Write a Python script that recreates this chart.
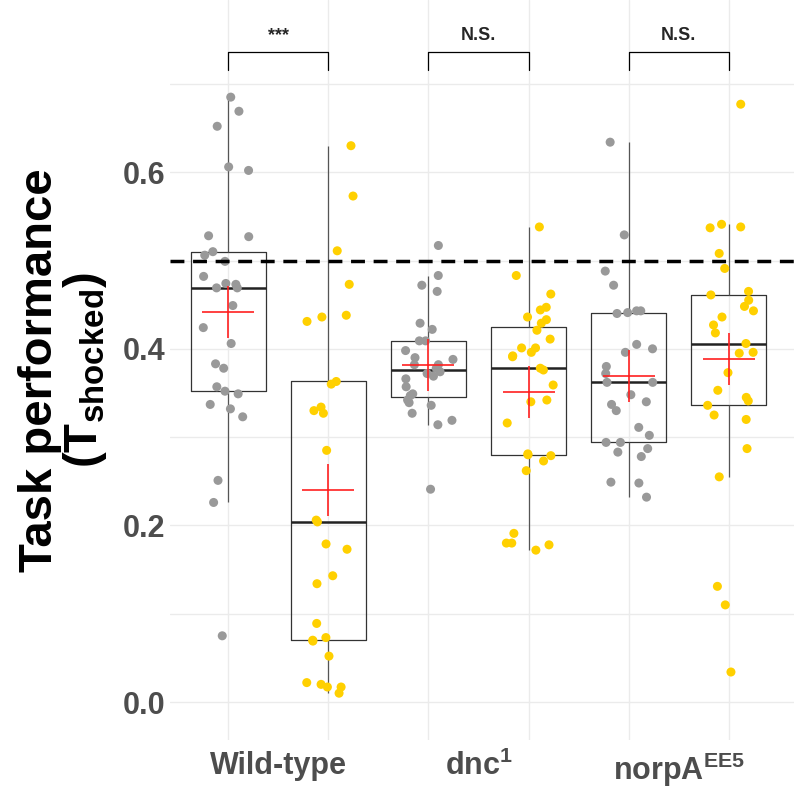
import numpy as np, pandas as pd, matplotlib
matplotlib.use("Agg")
import matplotlib.pyplot as plt, seaborn as sns

genotypes = ["Wild-type", "dnc$^{\\mathbf{1}}$", "norpA$^{\\mathbf{EE5}}$"]
wt_ctrl = [0.685,0.669,0.652,0.606,0.602,0.527,0.528,0.510,0.506,0.499,0.482,0.474,0.473,0.469,0.469,0.449,0.424,0.406,0.383,0.378,0.357,0.349,0.352,0.337,0.332,0.323,0.251,0.226,0.075]
wt_shock = [0.630,0.573,0.511,0.473,0.438,0.436,0.431,0.363,0.360,0.334,0.330,0.327,0.285,0.206,0.204,0.179,0.173,0.143,0.134,0.089,0.073,0.069,0.070,0.052,0.022,0.017,0.020,0.010,0.017]
dnc_ctrl = [0.517,0.483,0.472,0.465,0.429,0.422,0.409,0.409,0.398,0.390,0.388,0.382,0.382,0.378,0.374,0.372,0.369,0.366,0.357,0.349,0.347,0.342,0.339,0.336,0.327,0.319,0.314,0.241]
dnc_shock = [0.538,0.483,0.462,0.447,0.444,0.436,0.433,0.429,0.421,0.411,0.401,0.401,0.396,0.392,0.391,0.378,0.376,0.359,0.342,0.340,0.316,0.280,0.279,0.273,0.281,0.262,0.191,0.180,0.180,0.178,0.172]
norpa_ctrl = [0.634,0.529,0.488,0.472,0.443,0.443,0.441,0.440,0.405,0.400,0.396,0.380,0.372,0.362,0.362,0.348,0.340,0.337,0.330,0.311,0.302,0.294,0.294,0.287,0.283,0.278,0.249,0.248,0.232]
norpa_shock = [0.677,0.541,0.538,0.537,0.508,0.491,0.465,0.461,0.455,0.448,0.443,0.436,0.427,0.418,0.406,0.396,0.395,0.373,0.353,0.345,0.341,0.336,0.325,0.320,0.287,0.255,0.131,0.110,0.034]
signif = ["***", "N.S.", "N.S."]

groups = [wt_ctrl, wt_shock, dnc_ctrl, dnc_shock, norpa_ctrl, norpa_shock]
conds = ["ctrl","shock"]*3
rows = []
for i,(g,c) in enumerate(zip(groups,conds)):
    for v in g:
        rows.append({"pos": i+1, "val": v, "cond": c})
df = pd.DataFrame(rows)

sns.set_theme(style="whitegrid")
plt.rcParams["font.family"] = ["Liberation Sans", "DejaVu Sans"]
plt.rcParams["mathtext.fontset"] = "custom"
plt.rcParams["mathtext.rm"] = "Liberation Sans"
plt.rcParams["mathtext.bf"] = "Liberation Sans:bold"
plt.rcParams["mathtext.it"] = "Liberation Sans:italic"
fig = plt.figure(figsize=(8,8), dpi=100)
ax = fig.add_axes([0.2125, 0.075, 0.78, 0.925])
ax.set_xlim(0.42, 6.65); ax.set_ylim(-0.043, 0.795)

sns.boxplot(data=df, x="pos", y="val", native_scale=True, width=0.75, fill=False,
            color="#333333", showfliers=False, showcaps=False, linewidth=0.9, whis=1.5,
            medianprops=dict(linewidth=1.8, color="#222222"),
            whiskerprops=dict(color="#555555"), ax=ax, zorder=2)
np.random.seed(3)
sns.stripplot(data=df, x="pos", y="val", hue="cond", native_scale=True, jitter=0.26,
              palette={"ctrl":"#999999","shock":"#FFD000"}, size=6.5, legend=False, ax=ax, zorder=3)
means = df.groupby("pos")["val"].mean()
ax.scatter(means.index, means.values, marker="+", s=1400, color="#FF2020", linewidths=1.2, zorder=4)
ax.axhline(0.5, color="black", ls=(0,(4,2.5)), lw=2.5, zorder=5)

for k,s in enumerate(signif):
    a, b = 2*k+1, 2*k+2
    ax.plot([a,a,b,b],[0.716,0.736,0.736,0.716], color="black", lw=0.9, clip_on=False)
    ax.text((a+b)/2, 0.745, s, ha="center", va="bottom", fontsize=13, fontweight="bold")

ax.set_yticks([0,0.2,0.4,0.6]); ax.set_yticks([0.1,0.3,0.5,0.7], minor=True)
ax.set_yticklabels(["0.0","0.2","0.4","0.6"])
ax.set_xticks([1,2,3,4,5,6], minor=True)
ax.set_xticks([1.5,3.5,5.5]); ax.set_xticklabels(genotypes)
ax.grid(False)
ax.grid(True, axis="y", which="both", color="#EBEBEB", lw=1)
ax.grid(True, axis="x", which="minor", color="#EBEBEB", lw=1)
ax.tick_params(axis="both", which="both", length=0, labelsize=22, labelcolor="#4D4D4D")
for t in ax.get_xticklabels()+ax.get_yticklabels(): t.set_fontweight("bold")
ax.tick_params(axis="x", pad=8)
for sp in ax.spines.values(): sp.set_visible(False)
ax.set_xlabel("")
ax.set_ylabel("Task performance\n(T$_{\\mathbf{shocked}}$)", fontsize=34, fontweight="bold",
              color="black", labelpad=10, linespacing=0.95)
fig.savefig("out.png", dpi=100)
